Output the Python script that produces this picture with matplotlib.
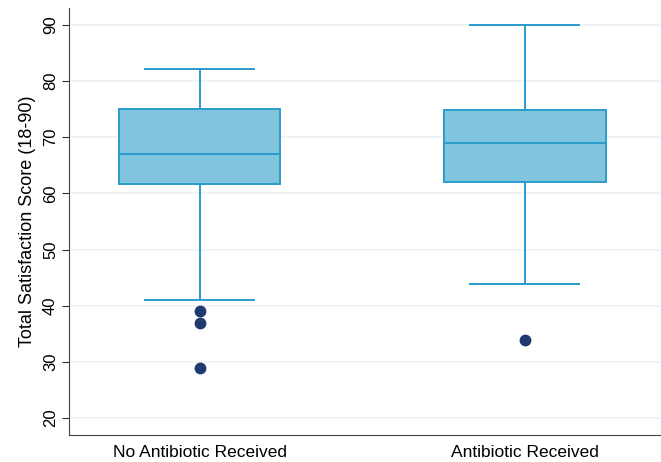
import matplotlib
matplotlib.use("Agg")
import matplotlib.pyplot as plt

# Groups and box summary values
groups = ["No Antibiotic Received", "Antibiotic Received"]
q1 = [61.6, 62.1]
median = [67.0, 69.0]
q3 = [75.0, 74.9]
whislo = [41.0, 43.8]
whishi = [82.2, 90.0]
outliers = [[39, 37, 29], [34]]

plt.rcParams['font.family'] = ['Liberation Sans', 'DejaVu Sans']

box_face = '#80c4de'
box_edge = '#2b9ccb'
dot_color = '#1f3a6e'

stats = []
for i in range(len(groups)):
    stats.append(dict(label=groups[i], q1=q1[i], med=median[i], q3=q3[i],
                      whislo=whislo[i], whishi=whishi[i], fliers=outliers[i]))

fig = plt.figure(figsize=(6.61, 4.62), dpi=100)
ax = fig.add_axes([0.1044, 0.0584, 0.8956, 0.9243])

ax.bxp(stats, positions=[1, 2], widths=0.495, patch_artist=True,
       boxprops=dict(facecolor=box_face, edgecolor=box_edge, linewidth=1.4),
       medianprops=dict(color=box_edge, linewidth=1.4),
       whiskerprops=dict(color=box_edge, linewidth=1.4),
       capprops=dict(color=box_edge, linewidth=1.4),
       capwidths=0.335,
       flierprops=dict(marker='o', markerfacecolor=dot_color, markeredgecolor=dot_color,
                       markersize=7.5))

ax.set_xlim(0.599, 2.418)
ax.set_ylim(17, 93)
ax.set_yticks(range(20, 91, 10))
ax.tick_params(axis='y', labelsize=12, length=5, color='#333333', rotation=90, pad=3)
for lab in ax.get_yticklabels():
    lab.set_va('center')
ax.tick_params(axis='x', labelsize=12.5, length=0, pad=7)
ax.set_xticks([1, 2])
ax.set_xticklabels(groups)
ax.set_ylabel('Total Satisfaction Score (18-90)', fontsize=13, labelpad=5)

ax.grid(axis='y', color='#edf2f4', linewidth=1.3)
ax.set_axisbelow(True)
ax.spines['top'].set_visible(False)
ax.spines['right'].set_visible(False)
ax.spines['left'].set_color('#444444')
ax.spines['bottom'].set_color('#444444')

fig.savefig('out.png', dpi=100)
